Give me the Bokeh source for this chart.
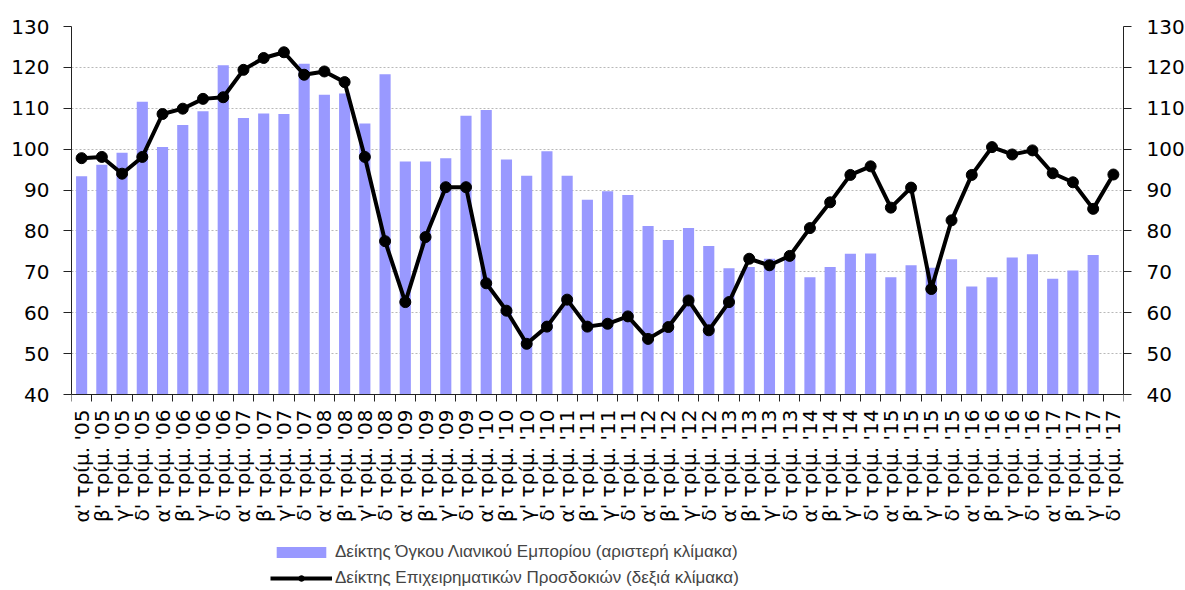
import math
from bokeh.plotting import figure
from bokeh.models import (Range1d, LinearAxis, FixedTicker,
                          Legend, LegendItem, ColumnDataSource)
from bokeh.embed import file_html
from bokeh.resources import INLINE

# ---- data ----
quarters = ["α'", "β'", "γ'", "δ'"]
years = ["05", "06", "07", "08", "09", "10", "11", "12", "13", "14", "15", "16", "17"]
labels = [f"{q} τρίμ. '{y}" for y in years for q in quarters]

# Retail trade volume index (left scale) - last quarter not available
retail = [93.4, 96.2, 99.1, 111.6, 100.5, 105.9, 109.3, 120.5, 107.6, 108.7,
          108.6, 120.9, 113.3, 113.6, 106.3, 118.3, 97.0, 97.0, 97.8, 108.2,
          109.6, 97.5, 93.5, 99.5, 93.5, 87.6, 89.7, 88.8, 81.2, 77.8,
          80.7, 76.3, 70.9, 71.2, 73.2, 74.0, 68.7, 71.2, 74.4, 74.5,
          68.7, 71.6, 71.0, 73.1, 66.4, 68.7, 73.5, 74.3, 68.3, 70.3,
          74.1]

# Business expectations index (right scale)
expect = [97.8, 98.1, 94.0, 98.1, 108.6, 109.9, 112.3, 112.7, 119.4, 122.3,
          123.7, 118.2, 119.0, 116.4, 98.1, 77.5, 62.6, 78.5, 90.7, 90.7,
          67.2, 60.5, 52.4, 56.6, 63.2, 56.6, 57.3, 59.1, 53.6, 56.5,
          63.0, 55.7, 62.6, 73.2, 71.6, 73.9, 80.7, 87.0, 93.7, 95.8,
          85.7, 90.6, 65.8, 82.6, 93.7, 100.5, 98.7, 99.7, 94.1, 91.9,
          85.4, 93.8]

bar_label = "Δείκτης Όγκου Λιανικού Εμπορίου (αριστερή κλίμακα)"
line_label = "Δείκτης Επιχειρηματικών Προσδοκιών (δεξιά κλίμακα)"

Y_MIN, Y_MAX = 40, 130
y_ticks = list(range(Y_MIN, Y_MAX + 1, 10))

FONT = "DejaVu Sans"
LEG_FONT = "Liberation Sans"
AX = "#222222"

# layout: value axis spans 368 px; frame extends below it to hold the legend
AXIS_PX = 368
FRAME_PX = 564
px_per_unit = AXIS_PX / (Y_MAX - Y_MIN)
y_lo = Y_MIN - (FRAME_PX - AXIS_PX) / px_per_unit

n = len(labels)
centers = [i + 0.5 for i in range(n)]          # category slot centres
bounds = list(range(n + 1))                    # category slot boundaries
bar_src = ColumnDataSource(dict(x=centers[:len(retail)], top=retail))
line_src = ColumnDataSource(dict(x=centers, y=expect))

p = figure(x_range=Range1d(0, n), y_range=Range1d(y_lo, Y_MAX),
           frame_width=1052, frame_height=FRAME_PX,
           x_axis_type=None,
           output_backend="svg", toolbar_location=None,
           min_border_left=71, min_border_right=62,
           min_border_top=26, min_border_bottom=0)
p.outline_line_color = None
p.background_fill_color = "white"
p.border_fill_color = "white"

p.extra_y_ranges = {"right": Range1d(y_lo, Y_MAX)}

# left axis
ya = p.yaxis[0]
ya.ticker = FixedTicker(ticks=y_ticks)
ya.bounds = (Y_MIN, Y_MAX)
ya.major_tick_in = 0
ya.major_tick_out = 8
ya.minor_tick_line_color = None
ya.axis_line_color = AX
ya.major_tick_line_color = AX
ya.major_label_text_font = FONT
ya.major_label_text_font_size = "20px"
ya.major_label_text_color = "black"
ya.major_label_standoff = 14

# right axis
ra = LinearAxis(y_range_name="right", ticker=FixedTicker(ticks=y_ticks),
                bounds=(Y_MIN, Y_MAX),
                major_tick_in=0, major_tick_out=8, minor_tick_line_color=None,
                axis_line_color=AX, major_tick_line_color=AX,
                major_label_text_font=FONT, major_label_text_font_size="20px",
                major_label_text_color="black", major_label_standoff=15)
p.add_layout(ra, "right")

# category axis at value 40: labels at slot centres, tick marks at slot boundaries
ca = LinearAxis(ticker=FixedTicker(ticks=centers, minor_ticks=bounds),
                fixed_location=Y_MIN,
                major_label_overrides={c: lab for c, lab in zip(centers, labels)},
                axis_line_color=AX,
                major_tick_line_color=None, major_tick_in=0, major_tick_out=7,
                minor_tick_line_color=AX, minor_tick_in=0, minor_tick_out=7,
                major_label_orientation=math.pi / 2,
                major_label_standoff=8,
                major_label_text_font=FONT, major_label_text_font_size="20px",
                major_label_text_color="black")
p.add_layout(ca, "below")

p.xgrid.visible = False
p.ygrid.ticker = FixedTicker(ticks=y_ticks)
p.ygrid.grid_line_color = "#b8b8b8"
p.ygrid.grid_line_dash = "2 2"
p.ygrid.grid_line_width = 1

bars = p.vbar(x="x", top="top", bottom=Y_MIN, width=0.55, source=bar_src,
              fill_color="#9999ff", line_color=None)
ln = p.line(x="x", y="y", source=line_src, y_range_name="right",
            line_color="black", line_width=4)
dots = p.scatter(x="x", y="y", source=line_src, y_range_name="right",
                 size=11, fill_color="black", line_color="black")

legend = Legend(items=[LegendItem(label=bar_label, renderers=[bars]),
                       LegendItem(label=line_label, renderers=[ln, dots])],
                location=(199, 1), orientation="vertical",
                glyph_width=62, glyph_height=14,
                label_text_font=LEG_FONT, label_text_font_size="17px",
                label_height=23, label_standoff=3, spacing=3,
                padding=0, margin=0, border_line_color=None,
                background_fill_alpha=0)
p.add_layout(legend, "center")

open("out.html", "w").write(file_html(p, INLINE))
